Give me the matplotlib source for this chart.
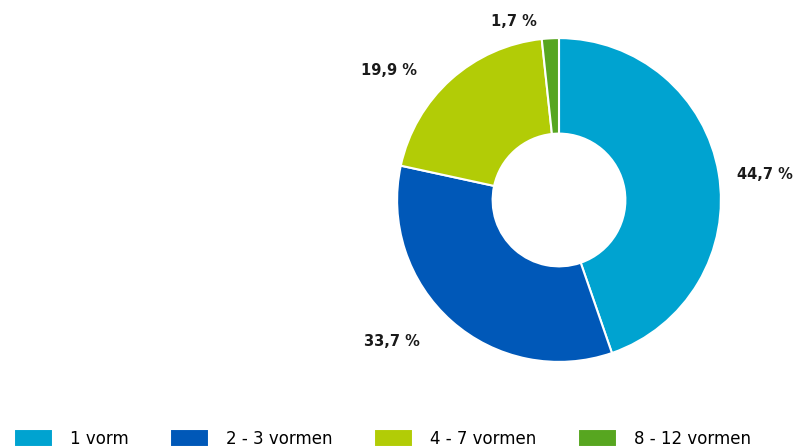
import matplotlib.pyplot as plt

categories = ['1 vorm', '2 - 3 vormen', '4 - 7 vormen', '8 - 12 vormen']
shares = [44.7, 33.7, 19.9, 1.7]
colors = ['#00a3d0', '#0058b8', '#b2cc06', '#57a620']

# where the percentage labels sit (data units, pie radius = 1)
label_pos = [(1.27, 0.155), (-1.03, -0.875), (-1.05, 0.80), (-0.28, 1.10)]

fig = plt.figure(figsize=(8.08, 4.48), dpi=100)
ax = fig.add_axes([(559 - 170) / 808, (248 - 170) / 448, 340 / 808, 340 / 448])

wedges, _ = ax.pie(shares, colors=colors, startangle=90, counterclock=False,
                   radius=1.0, wedgeprops=dict(width=0.59, edgecolor='white', linewidth=1.5))
ax.set_xlim(-1.05, 1.05)
ax.set_ylim(-1.05, 1.05)
ax.set_aspect('equal')
ax.axis('off')

for val, (x, y) in zip(shares, label_pos):
    txt = f'{val:.1f}'.replace('.', ',') + ' %'
    ax.text(x, y, txt, ha='center', va='center', fontsize=10.5,
            fontweight='bold', color='#1a1a1a', clip_on=False)

fig.legend(wedges, categories, loc='upper left', bbox_to_anchor=(14 / 808, 1 - 429 / 448),
           ncol=4, frameon=False, fontsize=12, handlelength=2.35, handleheight=1.3,
           handletextpad=1.0, columnspacing=2.5, borderaxespad=0, borderpad=0)

fig.savefig('out.png', dpi=100)
